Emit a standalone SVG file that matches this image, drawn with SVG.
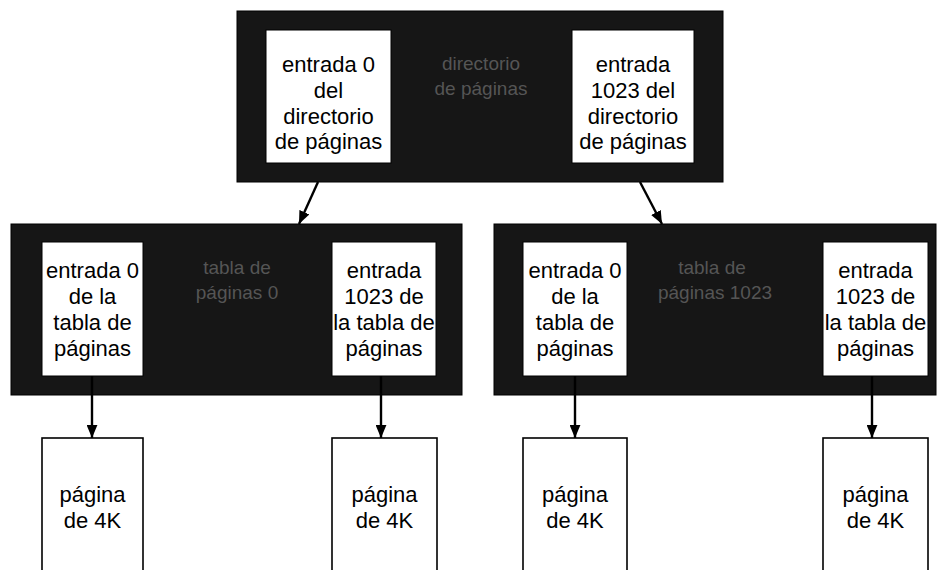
<svg xmlns="http://www.w3.org/2000/svg" width="942" height="570" viewBox="0 0 942 570">
<defs>
<marker id="ah" viewBox="0 0 12 10" refX="12" refY="5" markerWidth="13" markerHeight="11" markerUnits="userSpaceOnUse" orient="auto">
<path d="M0,0 L12,5 L0,10 Z" fill="#000"/>
</marker>
</defs>
<style>
.dark{fill:#161616;stroke:#000;stroke-width:1}
.entry{fill:#fff;stroke:#000;stroke-width:1}
.page{fill:#fff;stroke:#000;stroke-width:1.6}
.t{font-family:"Liberation Sans",Arial,sans-serif;font-size:22px;fill:#000;text-anchor:middle}
.faint{font-family:"Liberation Sans",Arial,sans-serif;font-size:19px;fill:#555;text-anchor:middle}
.conn{stroke:#000;stroke-width:2.4;fill:none}
</style>
<rect width="942" height="570" fill="#fff"/>

<g id="directorio">
<rect class="dark" x="237" y="11" width="486" height="171"/>
<text class="faint" x="481" y="70">directorio</text>
<text class="faint" x="481" y="95">de páginas</text>
<g id="dir-entrada-0">
<rect class="entry" x="266" y="30" width="125" height="133"/>
<text class="t" x="328.5" y="72">entrada 0</text>
<text class="t" x="328.5" y="98">del</text>
<text class="t" x="328.5" y="124">directorio</text>
<text class="t" x="328.5" y="149">de páginas</text>
</g>
<g id="dir-entrada-1023">
<rect class="entry" x="572" y="30" width="122" height="133"/>
<text class="t" x="633" y="72">entrada</text>
<text class="t" x="633" y="98">1023 del</text>
<text class="t" x="633" y="124">directorio</text>
<text class="t" x="633" y="149">de páginas</text>
</g>
</g>

<g id="tabla-0">
<rect class="dark" x="11" y="224" width="451" height="171"/>
<text class="faint" x="237" y="274">tabla de</text>
<text class="faint" x="237" y="299">páginas 0</text>
<g id="t0-entrada-0">
<rect class="entry" x="42" y="242" width="101" height="134"/>
<text class="t" x="92.5" y="278">entrada 0</text>
<text class="t" x="92.5" y="304">de la</text>
<text class="t" x="92.5" y="330">tabla de</text>
<text class="t" x="92.5" y="356">páginas</text>
</g>
<g id="t0-entrada-1023">
<rect class="entry" x="332" y="242" width="104" height="134"/>
<text class="t" x="384" y="278">entrada</text>
<text class="t" x="384" y="304">1023 de</text>
<text class="t" x="384" y="330">la tabla de</text>
<text class="t" x="384" y="356">páginas</text>
</g>
</g>

<g id="tabla-1023">
<rect class="dark" x="494" y="224" width="442" height="171"/>
<text class="faint" x="712" y="274">tabla de</text>
<text class="faint" x="715" y="299">páginas 1023</text>
<g id="t1023-entrada-0">
<rect class="entry" x="523" y="242" width="104" height="134"/>
<text class="t" x="575" y="278">entrada 0</text>
<text class="t" x="575" y="304">de la</text>
<text class="t" x="575" y="330">tabla de</text>
<text class="t" x="575" y="356">páginas</text>
</g>
<g id="t1023-entrada-1023">
<rect class="entry" x="823" y="242" width="105" height="134"/>
<text class="t" x="875.5" y="278">entrada</text>
<text class="t" x="875.5" y="304">1023 de</text>
<text class="t" x="875.5" y="330">la tabla de</text>
<text class="t" x="875.5" y="356">páginas</text>
</g>
</g>

<g id="pagina-1">
<rect class="page" x="42" y="438" width="101" height="150"/>
<text class="t" x="92.5" y="502">página</text>
<text class="t" x="92.5" y="528">de 4K</text>
</g>
<g id="pagina-2">
<rect class="page" x="332" y="438" width="105" height="150"/>
<text class="t" x="384.5" y="502">página</text>
<text class="t" x="384.5" y="528">de 4K</text>
</g>
<g id="pagina-3">
<rect class="page" x="523" y="438" width="104" height="150"/>
<text class="t" x="575" y="502">página</text>
<text class="t" x="575" y="528">de 4K</text>
</g>
<g id="pagina-4">
<rect class="page" x="823" y="438" width="105" height="150"/>
<text class="t" x="875.5" y="502">página</text>
<text class="t" x="875.5" y="528">de 4K</text>
</g>

<g id="connectors">
<line class="conn" x1="318" y1="182" x2="299" y2="224" marker-end="url(#ah)"/>
<line class="conn" x1="640" y1="182" x2="662" y2="224" marker-end="url(#ah)"/>
<line class="conn" x1="92" y1="376" x2="92" y2="438" marker-end="url(#ah)"/>
<line class="conn" x1="381" y1="376" x2="381" y2="438" marker-end="url(#ah)"/>
<line class="conn" x1="575" y1="376" x2="575" y2="438" marker-end="url(#ah)"/>
<line class="conn" x1="872" y1="376" x2="872" y2="438" marker-end="url(#ah)"/>
</g>
</svg>
